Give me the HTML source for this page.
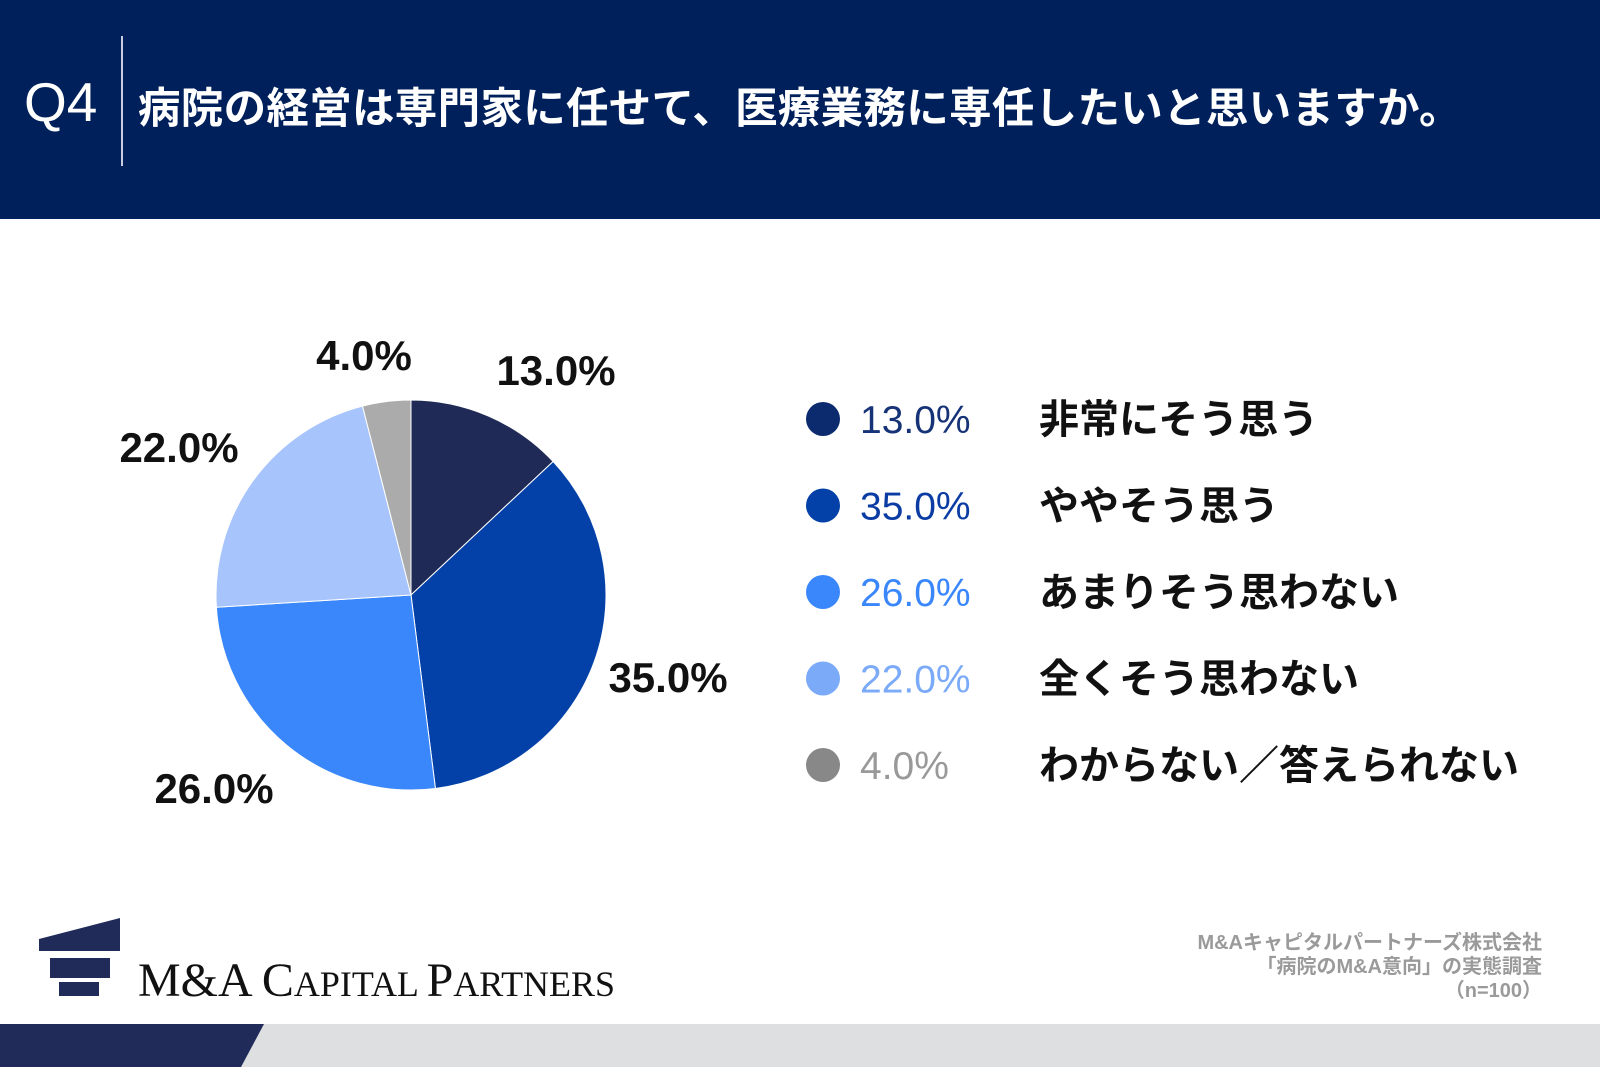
<!DOCTYPE html>
<html><head><meta charset="utf-8"><style>
body{margin:0;width:1600px;height:1067px;position:relative;background:#fff;font-family:"Liberation Sans","Noto Sans CJK JP",sans-serif;overflow:hidden}
.abs{position:absolute}
</style></head><body>
<div class="abs" style="left:0;top:0;width:1600px;height:219px;background:#00205b"></div>
<div class="abs" style="left:24px;top:70px;font-size:55px;color:#fff">Q4</div>
<div class="abs" style="left:121px;top:36px;width:2px;height:130px;background:#c8cde0"></div>
<div class="abs" style="left:138px;top:75px;font-size:42.5px;font-weight:bold;color:#fff;white-space:nowrap;letter-spacing:0.3px">病院の経営は専門家に任せて、医療業務に専任したいと思いますか。</div>

<svg class="abs" style="left:0;top:0" width="1600" height="1067">
<g id="pie"></g><g id="lbl"></g><g id="legend"></g>
</svg>

<div class="abs" style="left:0;top:1024px;width:1600px;height:43px;background:#dedfe1"></div>
<svg class="abs" style="left:0;top:1024px" width="300" height="43"><polygon points="0,0 264,0 241,43 0,43" fill="#202b5a"/></svg>

<svg class="abs" style="left:0;top:900px" width="640" height="110">
<polygon points="39,39 120,18 120,51 39,51" fill="#202b5a"/>
<rect x="50" y="58" width="60" height="20" fill="#202b5a"/>
<rect x="59" y="82" width="40" height="14" fill="#202b5a"/>
<text x="138" y="96" font-family="Liberation Serif,serif" fill="#111" textLength="477" lengthAdjust="spacingAndGlyphs"><tspan font-size="48">M&amp;A C</tspan><tspan font-size="36">APITAL </tspan><tspan font-size="48">P</tspan><tspan font-size="36">ARTNERS</tspan></text>
</svg>

<div class="abs" style="right:58px;top:931px;text-align:right;font-size:20px;font-weight:bold;color:#9a9a9a;line-height:24px">M&amp;Aキャピタルパートナーズ株式会社<br>「病院のM&amp;A意向」の実態調査<br>（n=100）</div>

<script>
const categories=["非常にそう思う","ややそう思う","あまりそう思わない","全くそう思わない","わからない／答えられない"];
const values=[13.0,35.0,26.0,22.0,4.0];
const sliceColors=["#1f2a57","#0341a8","#3a87fb","#a8c4fc","#ababab"];
const dotColors=["#0c2a6e","#0341a8","#3a87fb","#7aaaf8","#888888"];
const textColors=["#173377","#0a3ca4","#3a87fb","#7aaaf8","#999999"];
const NS="http://www.w3.org/2000/svg";
const cx=411,cy=595,r=195;
const labelPos=[[556,370],[668,677],[214,788],[179,447],[364,355]];
const pie=document.getElementById('pie'),lbl=document.getElementById('lbl'),leg=document.getElementById('legend');
const total=values.reduce((a,b)=>a+b,0);
let a0=0;
values.forEach((v,i)=>{
  const a1=a0+v/total*2*Math.PI;
  const x0=cx+r*Math.sin(a0),y0=cy-r*Math.cos(a0),x1=cx+r*Math.sin(a1),y1=cy-r*Math.cos(a1);
  const p=document.createElementNS(NS,'path');
  p.setAttribute('d',`M${cx},${cy}L${x0},${y0}A${r},${r} 0 ${a1-a0>Math.PI?1:0} 1 ${x1},${y1}Z`);
  p.setAttribute('fill',sliceColors[i]);p.setAttribute('stroke','#fff');p.setAttribute('stroke-width','1');
  
  
  pie.appendChild(p);
  const t=document.createElementNS(NS,'text');
  t.setAttribute('x',labelPos[i][0]);t.setAttribute('y',labelPos[i][1]+15);
  t.setAttribute('text-anchor','middle');t.setAttribute('font-size','42');t.setAttribute('font-weight','bold');t.setAttribute('fill','#111');
  t.textContent=v.toFixed(1)+'%';
  
  
  lbl.appendChild(t);
  a0=a1;
  const y=419+i*86.5;
  const c=document.createElementNS(NS,'circle');
  c.setAttribute('cx',823);c.setAttribute('cy',y);c.setAttribute('r',17);c.setAttribute('fill',dotColors[i]);
  
  
  leg.appendChild(c);
  const pt=document.createElementNS(NS,'text');
  pt.setAttribute('x',860);pt.setAttribute('y',y+14);pt.setAttribute('font-size','39');pt.setAttribute('fill',textColors[i]);
  pt.textContent=v.toFixed(1)+'%';
  
  
  leg.appendChild(pt);
  const lt=document.createElementNS(NS,'text');
  lt.setAttribute('x',1039);lt.setAttribute('y',y+14);lt.setAttribute('font-size','40');lt.setAttribute('font-weight','bold');lt.setAttribute('fill','#111');
  lt.textContent=categories[i];
  
  
  leg.appendChild(lt);
});
</script>
</body></html>
